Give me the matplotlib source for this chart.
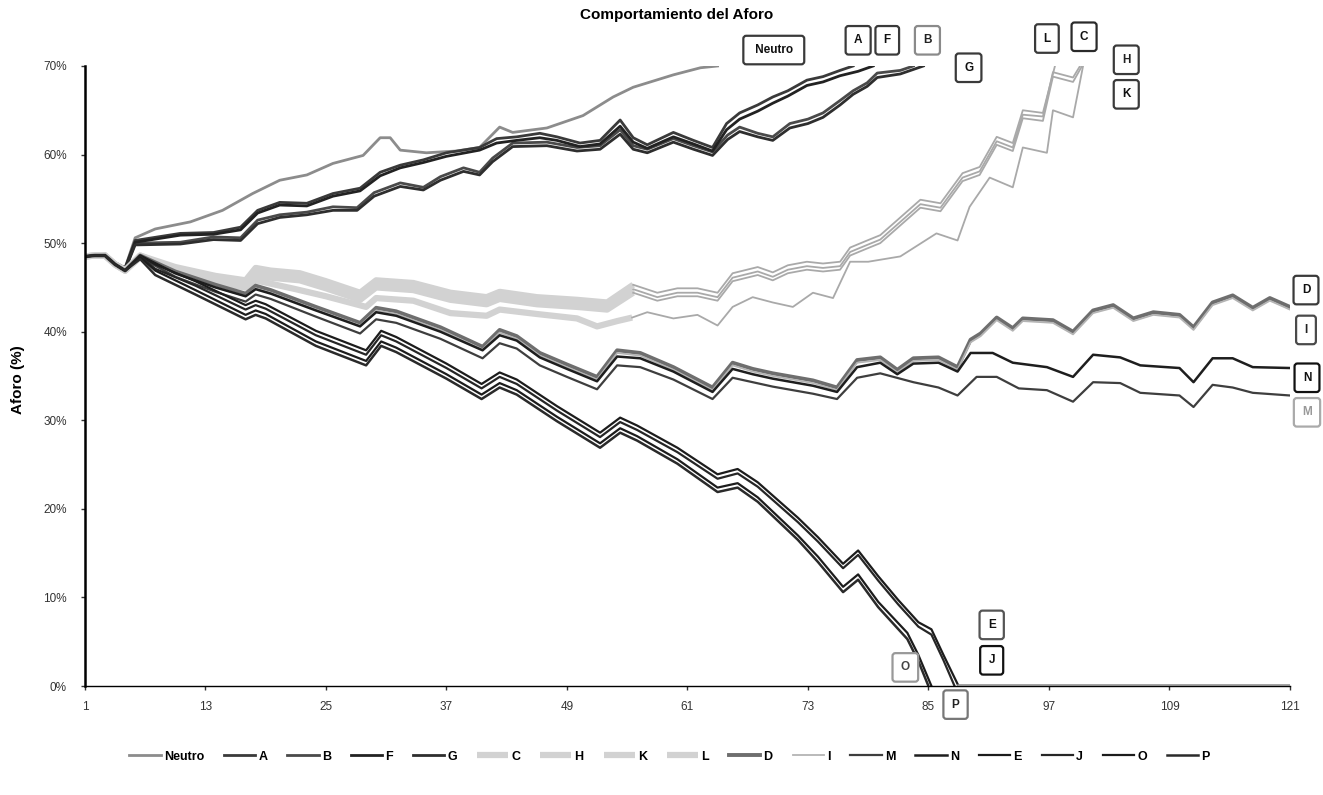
import matplotlib
matplotlib.use("Agg")
from matplotlib import pyplot as plt

plt.rcParams['font.family'] = ['Liberation Sans', 'DejaVu Sans']

# x positions (day) and Aforo (%), one pair of lists per series
neutro_x = [1, 2, 3, 4, 5, 6, 8, 11.5, 14.7, 17.7, 20.4, 23.1, 25.7, 28.7, 30.4, 31.4, 32.4, 35, 38, 40.3, 42.3,
            43.6, 47, 50.6, 53.6, 55.6, 59.6, 62.3, 64]
neutro_y = [48.5, 48.6, 48.8, 47.8, 47.2, 50.6, 51.6, 52.4, 53.7, 55.6, 57.1, 57.7, 59.0, 59.9, 61.9, 61.9, 60.5,
            60.2, 60.4, 60.8, 63.1, 62.5, 63.0, 64.4, 66.5, 67.6, 69.0, 69.8, 70.0]

a_x = [1, 2, 3, 4, 5, 6, 10.5, 13.8, 16.5, 18.2, 20.4, 23.1, 25.7, 28.4, 30.4, 32.4, 34.7, 37, 40.3, 42, 44, 46.3,
       48, 50.3, 52.3, 54.3, 55.6, 57, 59.6, 61.6, 63.5, 64.9, 66.2, 68, 69.5, 71, 72.9, 74.5, 76.2, 77.5]
a_y = [48.5, 48.6, 48.8, 47.8, 47.2, 50.3, 51.1, 51.2, 51.8, 53.7, 54.6, 54.5, 55.6, 56.2, 58.0, 58.8, 59.4, 60.2,
       60.8, 61.8, 62.0, 62.4, 62.0, 61.3, 61.6, 63.9, 61.9, 61.1, 62.5, 61.6, 60.8, 63.5, 64.7, 65.6, 66.5, 67.2,
       68.4, 68.8, 69.5, 70.0]

f_x = [1, 2, 3, 4, 5, 6, 10.5, 13.8, 16.5, 18.2, 20.4, 23.1, 25.7, 28.4, 30.4, 32.4, 34.7, 37, 40.3, 42, 44, 46.3,
       48, 50.3, 52.3, 54.3, 55.6, 57, 59.6, 61.6, 63.5, 64.9, 66.2, 68, 69.5, 71, 72.9, 74.5, 76.2, 78, 79.5]
f_y = [48.5, 48.6, 48.7, 47.7, 47.1, 50.1, 50.9, 51.0, 51.5, 53.4, 54.3, 54.2, 55.3, 55.9, 57.6, 58.5, 59.1, 59.8,
       60.5, 61.3, 61.6, 61.9, 61.6, 60.9, 61.2, 63.2, 61.4, 60.7, 62.0, 61.2, 60.4, 62.8, 64.0, 64.9, 65.8, 66.6,
       67.8, 68.2, 68.9, 69.4, 70.0]

b_x = [1, 2, 3, 4, 5, 6, 10.5, 13.8, 16.5, 18.2, 20.4, 23.1, 25.7, 28.1, 29.8, 32.4, 34.7, 36.4, 38.7, 40.3, 41.6,
       43.6, 47, 50, 52.3, 54.3, 55.6, 57, 59.6, 61.6, 63.5, 65, 66.2, 68, 69.5, 71.2, 73, 74.5, 76.2, 77.5, 78.9,
       79.9, 82.2, 83.5]
b_y = [48.5, 48.6, 48.7, 47.6, 47.0, 50.0, 50.1, 50.7, 50.6, 52.6, 53.2, 53.5, 54.1, 54.0, 55.7, 56.8, 56.3, 57.5,
       58.5, 58.0, 59.6, 61.3, 61.4, 60.8, 61.0, 62.8, 61.0, 60.6, 61.8, 61.0, 60.3, 62.2, 63.1, 62.4, 62.0, 63.5,
       64.0, 64.7, 66.1, 67.2, 68.1, 69.2, 69.5, 70.0]

g_x = [1, 2, 3, 4, 5, 6, 10.5, 13.8, 16.5, 18.2, 20.4, 23.1, 25.7, 28.1, 29.8, 32.4, 34.7, 36.4, 38.7, 40.3, 41.6,
       43.6, 47, 50, 52.3, 54.3, 55.6, 57, 59.6, 61.6, 63.5, 65, 66.2, 68, 69.5, 71.2, 73, 74.5, 76.2, 77.5, 78.9,
       79.9, 82.2, 84.5]
g_y = [48.5, 48.6, 48.7, 47.6, 47.0, 49.8, 49.9, 50.4, 50.3, 52.2, 52.9, 53.2, 53.7, 53.7, 55.3, 56.4, 56.0, 57.1,
       58.1, 57.7, 59.2, 60.9, 61.0, 60.4, 60.6, 62.3, 60.6, 60.2, 61.4, 60.6, 59.9, 61.7, 62.6, 62.0, 61.6, 63.0,
       63.5, 64.2, 65.6, 66.8, 67.7, 68.7, 69.1, 70.0]

l_x = [1, 2, 3, 4, 5, 6.5, 10, 14, 17, 18, 19.5, 22.4, 25, 28.4, 30, 33.7, 37.4, 41, 42.3, 46, 50, 53, 55.6, 58, 60,
       62, 64, 65.5, 68, 69.5, 71, 72.9, 74.5, 76.2, 77.2, 78.9, 80.2, 82.2, 84.2, 86.2, 88.4, 90.1, 91.8, 93.4,
       94.4, 96.4, 97.6]
l_y = [48.5, 48.6, 48.6, 47.6, 46.9, 48.6, 47.3, 46.3, 45.8, 47.2, 46.9, 46.6, 45.7, 44.4, 45.8, 45.5, 44.4, 43.9,
       44.5, 43.9, 43.6, 43.3, 45.3, 44.4, 44.9, 44.9, 44.4, 46.6, 47.3, 46.7, 47.5, 47.9, 47.7, 47.9, 49.5, 50.3,
       50.9, 52.9, 54.9, 54.5, 57.9, 58.6, 62.0, 61.3, 65.0, 64.7, 70.0]

c_x = [1, 2, 3, 4, 5, 6.5, 10, 14, 17, 18, 19.5, 22.4, 25, 28.4, 30, 33.7, 37.4, 41, 42.3, 46, 50, 53, 55.6, 58, 60,
       62, 64, 65.5, 68, 69.5, 71, 72.9, 74.5, 76.2, 77.2, 78.9, 80.2, 82.2, 84.2, 86.2, 88.4, 90.1, 91.8, 93.4,
       94.4, 96.4, 97.4, 99.4, 100.1]
c_y = [48.5, 48.6, 48.6, 47.6, 46.9, 48.5, 47.0, 45.9, 45.4, 46.8, 46.5, 46.2, 45.3, 44.0, 45.4, 45.1, 44.0, 43.5,
       44.1, 43.5, 43.2, 42.9, 44.8, 43.9, 44.4, 44.4, 43.9, 46.1, 46.8, 46.2, 47.0, 47.4, 47.2, 47.4, 49.0, 49.8,
       50.4, 52.4, 54.4, 54.0, 57.4, 58.1, 61.5, 60.8, 64.5, 64.3, 69.3, 68.7, 70.0]

h_x = [1, 2, 3, 4, 5, 6.5, 10, 14, 17, 18, 19.5, 22.4, 25, 28.4, 30, 33.7, 37.4, 41, 42.3, 46, 50, 53, 55.6, 58, 60,
       62, 64, 65.5, 68, 69.5, 71, 72.9, 74.5, 76.2, 77.2, 78.9, 80.2, 82.2, 84.2, 86.2, 88.4, 90.1, 91.8, 93.4,
       94.4, 96.4, 97.4, 99.4, 100.3]
h_y = [48.5, 48.6, 48.6, 47.6, 46.9, 48.4, 46.7, 45.5, 45.0, 46.4, 46.1, 45.8, 44.9, 43.6, 45.0, 44.7, 43.6, 43.1,
       43.7, 43.1, 42.8, 42.5, 44.4, 43.5, 44.0, 44.0, 43.5, 45.7, 46.4, 45.8, 46.6, 47.0, 46.8, 47.0, 48.6, 49.4,
       50.0, 52.0, 54.0, 53.6, 57.0, 57.7, 61.1, 60.4, 64.1, 63.8, 68.8, 68.2, 70.0]

k_x = [1, 2, 3, 4, 5, 6.5, 10, 14, 17, 18, 22, 25, 29, 30, 33.7, 37.4, 41, 42.3, 46, 50, 52, 54, 55.5, 57, 59.6, 62,
       64, 65.5, 67.5, 69.5, 71.5, 73.5, 75.5, 77.2, 79, 82.2, 85.8, 87.9, 89.1, 91.1, 93.4, 94.4, 96.8, 97.4, 99.4,
       100.4]
k_y = [48.5, 48.6, 48.6, 47.6, 46.9, 48.6, 47.0, 45.8, 45.0, 45.8, 44.8, 44.0, 42.8, 43.8, 43.5, 42.1, 41.8, 42.5,
       42.0, 41.5, 40.6, 41.2, 41.6, 42.2, 41.5, 41.9, 40.7, 42.8, 43.9, 43.3, 42.8, 44.4, 43.8, 47.9, 47.9, 48.5,
       51.1, 50.3, 54.1, 57.4, 56.3, 60.8, 60.2, 65.0, 64.2, 70.0]

d_x = [1, 2, 3, 4, 5, 6.5, 10, 14, 17, 18, 19.5, 24, 28.4, 30, 32, 36.4, 40.6, 42.3, 44, 46.3, 49, 52, 54, 56.3,
       59.6, 63.5, 65.5, 67.5, 69.5, 71.5, 73.5, 75.9, 77.9, 80.2, 81.9, 83.5, 86, 87.9, 89.2, 90.2, 91.8, 93.4,
       94.4, 97.4, 99.4, 101.4, 103.4, 105.4, 107.4, 110, 111.4, 113.3, 115.3, 117.3, 119, 121]
d_y = [48.5, 48.6, 48.6, 47.6, 46.9, 48.6, 46.8, 45.3, 44.3, 45.2, 44.7, 42.8, 41.0, 42.7, 42.3, 40.5, 38.3, 40.2,
       39.5, 37.6, 36.3, 34.9, 37.9, 37.6, 36.0, 33.7, 36.5, 35.8, 35.3, 34.9, 34.5, 33.7, 36.8, 37.1, 35.7, 37.0,
       37.1, 36.0, 39.1, 39.8, 41.6, 40.4, 41.5, 41.3, 40.0, 42.4, 43.0, 41.5, 42.2, 41.9, 40.5, 43.3, 44.1, 42.7,
       43.8, 42.8]

i_x = d_x
i_y = [48.5, 48.6, 48.6, 47.6, 46.9, 48.6, 46.6, 45.0, 44.0, 44.9, 44.4, 42.5, 40.7, 42.4, 42.0, 40.2, 38.0, 39.9,
       39.2, 37.3, 36.0, 34.6, 37.6, 37.3, 35.7, 33.4, 36.2, 35.5, 35.0, 34.6, 34.2, 33.4, 36.5, 36.8, 35.4, 36.7,
       36.8, 35.7, 38.8, 39.5, 41.3, 40.1, 41.2, 41.0, 39.7, 42.1, 42.7, 41.2, 41.9, 41.6, 40.2, 43.0, 43.8, 42.4,
       43.5, 42.5]

n_x = [1, 2, 3, 4, 5, 6.5, 10, 14, 17, 18, 19.5, 24, 28.4, 30, 32, 36.4, 40.6, 42.3, 44, 46.3, 49, 52, 54, 56.3,
       59.6, 63.5, 65.5, 67.5, 69.5, 71.5, 73.5, 75.9, 77.9, 80.2, 81.9, 83.5, 86, 87.9, 89.2, 91.4, 93.4, 96.8,
       99.4, 101.4, 104.1, 106.1, 110, 111.4, 113.3, 115.3, 117.3, 121]
n_y = [48.5, 48.6, 48.6, 47.6, 46.9, 48.6, 46.6, 45.0, 44.0, 44.8, 44.3, 42.4, 40.6, 42.2, 41.8, 40.0, 37.9, 39.6,
       39.0, 37.1, 35.8, 34.4, 37.2, 37.0, 35.5, 33.2, 35.8, 35.2, 34.7, 34.3, 33.9, 33.2, 36.0, 36.5, 35.2, 36.4,
       36.5, 35.5, 37.6, 37.6, 36.5, 36.0, 34.9, 37.4, 37.1, 36.2, 35.9, 34.3, 37.0, 37.0, 36.0, 35.9]

m_x = [1, 2, 3, 4, 5, 6.5, 10, 14, 17, 18, 19.5, 24, 28.4, 30, 32, 36.4, 40.6, 42.3, 44, 46.3, 49, 52, 54, 56.3,
       59.6, 63.5, 65.5, 67.5, 69.5, 71.5, 73.5, 75.9, 77.9, 80.2, 83.5, 86, 87.9, 89.8, 91.8, 94, 96.8, 99.4, 101.4,
       104.1, 106.1, 110, 111.4, 113.3, 115.3, 117.3, 121]
m_y = [48.5, 48.6, 48.6, 47.6, 46.9, 48.4, 46.2, 44.5, 43.4, 44.2, 43.7, 41.7, 39.8, 41.4, 41.0, 39.2, 37.0, 38.7,
       38.1, 36.2, 34.9, 33.5, 36.2, 36.0, 34.6, 32.4, 34.8, 34.3, 33.8, 33.4, 33.0, 32.4, 34.8, 35.3, 34.3, 33.7,
       32.8, 34.9, 34.9, 33.6, 33.4, 32.1, 34.3, 34.2, 33.1, 32.8, 31.5, 34.0, 33.7, 33.1, 32.8]

e_x = [1, 2, 3, 4, 5, 6.5, 8, 12, 17, 18, 19, 24, 29, 30.5, 32, 37, 40.5, 42.3, 44, 48, 52.3, 54.3, 56, 60, 64, 66,
       68, 72, 74, 76.5, 78, 80, 82, 84, 85.3, 86.5, 88, 121]
e_y = [48.5, 48.6, 48.6, 47.6, 46.9, 48.6, 47.6, 45.7, 43.0, 43.5, 43.1, 40.1, 37.9, 40.1, 39.4, 36.4, 34.1, 35.4,
       34.6, 31.6, 28.6, 30.3, 29.4, 26.9, 23.9, 24.5, 23.0, 19.0, 16.8, 13.8, 15.3, 12.4, 9.7, 7.2, 6.4, 3.5, 0.0,
       0.0]

j_x = [1, 2, 3, 4, 5, 6.5, 8, 12, 17, 18, 19, 24, 29, 30.5, 32, 37, 40.5, 42.3, 44, 48, 52.3, 54.3, 56, 60, 64, 66,
       68, 72, 74, 76.5, 78, 80, 82, 84, 85.3, 86.5, 87.6]
j_y = [48.5, 48.6, 48.6, 47.6, 46.9, 48.5, 47.1, 45.2, 42.5, 43.0, 42.6, 39.6, 37.4, 39.6, 38.9, 35.9, 33.6, 34.9,
       34.1, 31.1, 28.1, 29.8, 28.9, 26.4, 23.4, 24.0, 22.5, 18.5, 16.3, 13.3, 14.8, 11.9, 9.2, 6.7, 5.8, 2.9, 0.0]

o_x = [1, 2, 3, 4, 5, 6.5, 8, 12, 17, 18, 19, 24, 29, 30.5, 32, 37, 40.5, 42.3, 44, 48, 52.3, 54.3, 56, 60, 64, 66,
       68, 72, 74, 76.5, 78, 80, 82.9, 84, 85.3]
o_y = [48.5, 48.6, 48.6, 47.6, 46.9, 48.4, 46.9, 44.7, 41.9, 42.4, 42.0, 38.9, 36.7, 38.9, 38.2, 35.2, 32.9, 34.2,
       33.4, 30.4, 27.4, 29.1, 28.2, 25.6, 22.4, 22.9, 21.3, 17.0, 14.6, 11.2, 12.6, 9.5, 6.0, 3.5, 0.0]

p_x = [1, 2, 3, 4, 5, 6.5, 8, 12, 17, 18, 19, 24, 29, 30.5, 32, 37, 40.5, 42.3, 44, 48, 52.3, 54.3, 56, 60, 64, 66,
       68, 72, 74, 76.5, 78, 80, 82.9, 84, 85]
p_y = [48.5, 48.6, 48.6, 47.6, 46.9, 48.2, 46.4, 44.2, 41.4, 41.9, 41.5, 38.4, 36.2, 38.4, 37.7, 34.7, 32.4, 33.7,
       32.9, 29.9, 26.9, 28.6, 27.7, 25.1, 21.9, 22.4, 20.8, 16.5, 14.0, 10.6, 12.0, 8.9, 5.3, 2.8, 0.0]

x_ticks = [1, 13, 25, 37, 49, 61, 73, 85, 97, 109, 121]
y_ticks = [0, 10, 20, 30, 40, 50, 60, 70]

# name, x, y, colour, linewidth
series = [
    ("Neutro", neutro_x, neutro_y, "#8c8c8c", 2.0),
    ("A", a_x, a_y, "#3a3a3a", 2.0),
    ("B", b_x, b_y, "#4a4a4a", 2.0),
    ("F", f_x, f_y, "#222222", 2.0),
    ("G", g_x, g_y, "#2e2e2e", 2.0),
    ("C", c_x, c_y, "#d2d2d2", 4.5),
    ("H", h_x, h_y, "#d2d2d2", 4.5),
    ("K", k_x, k_y, "#d2d2d2", 4.5),
    ("L", l_x, l_y, "#d2d2d2", 4.5),
    ("D", d_x, d_y, "#6e6e6e", 2.8),
    ("I", i_x, i_y, "#b4b4b4", 1.3),
    ("M", m_x, m_y, "#3e3e3e", 1.6),
    ("N", n_x, n_y, "#1e1e1e", 1.8),
    ("E", e_x, e_y, "#1c1c1c", 1.6),
    ("J", j_x, j_y, "#262626", 1.6),
    ("O", o_x, o_y, "#1c1c1c", 1.6),
    ("P", p_x, p_y, "#2a2a2a", 1.8),
]
light = ["C", "H", "K", "L"]

# label box: centre (x, y in data units), edge colour, text colour
labels = {
    "Neutro": (69.6, 71.8, "#3a3a3a", "#111111"),
    "A": (78.0, 72.9, "#3a3a3a", "#111111"),
    "F": (80.9, 72.9, "#3a3a3a", "#111111"),
    "B": (84.9, 72.9, "#8a8a8a", "#222222"),
    "G": (89.0, 69.8, "#3a3a3a", "#111111"),
    "L": (96.8, 73.1, "#3a3a3a", "#111111"),
    "C": (100.5, 73.3, "#2a2a2a", "#111111"),
    "H": (104.7, 70.7, "#3a3a3a", "#222222"),
    "K": (104.7, 66.8, "#3a3a3a", "#111111"),
    "D": (122.6, 44.7, "#3a3a3a", "#111111"),
    "I": (122.6, 40.2, "#4a4a4a", "#222222"),
    "N": (122.7, 34.8, "#111111", "#111111"),
    "M": (122.7, 30.9, "#aaaaaa", "#999999"),
    "E": (91.3, 6.9, "#555555", "#111111"),
    "J": (91.3, 2.9, "#111111", "#111111"),
    "O": (82.7, 2.1, "#999999", "#444444"),
    "P": (87.7, -2.1, "#777777", "#222222"),
}

fig = plt.figure(figsize=(13.23, 7.95), dpi=100)
ax = fig.add_axes([0.0642, 0.1371, 0.9108, 0.7799])

for name, xs, ys, color, lw in series:
    if name in light:
        # thick light band first, thinner grey once the lines split
        cut = next(i for i, v in enumerate(xs) if v >= 55)
        ax.plot(xs[:cut + 1], ys[:cut + 1], color=color, lw=lw, label=name, solid_capstyle="butt")
        ax.plot(xs[cut:], ys[cut:], color="#a9a9a9", lw=1.3)
    elif name == "E":
        # the part lying on the axis shows up grey
        cut = xs.index(88)
        ax.plot(xs[:cut + 1], ys[:cut + 1], color=color, lw=lw, label=name)
        ax.plot(xs[cut:], ys[cut:], color="#8f8f8f", lw=2.6, zorder=3)
    else:
        ax.plot(xs, ys, color=color, lw=lw, label=name)

for name, (lx, ly, ec, tc) in labels.items():
    txt = " Neutro " if name == "Neutro" else name
    ax.text(lx, ly, txt, ha="center", va="center", fontsize=8.5, fontweight="bold", color=tc,
            clip_on=False, zorder=5,
            bbox=dict(boxstyle="round,pad=0.7,rounding_size=0.25", fc="white", ec=ec, lw=1.6))

ax.set_xlim(1, 121)
ax.set_ylim(0, 70)
ax.set_xticks(x_ticks)
ax.set_xticklabels([str(t) for t in x_ticks])
ax.set_yticks(y_ticks)
ax.set_yticklabels([f"{t}%" for t in y_ticks])
ax.tick_params(axis="both", labelsize=8.5, colors="#333333", length=3, width=1)
ax.tick_params(axis="x", pad=8)
ax.tick_params(axis="y", pad=10)

for side in ["top", "right"]:
    ax.spines[side].set_visible(False)
ax.spines["left"].set_linewidth(1.8)
ax.spines["bottom"].set_linewidth(1.0)

fig.text(0.5117, 0.981, "Comportamiento del Aforo", ha="center", va="center", fontsize=11, fontweight="bold")
fig.text(0.0136, 0.522, "Aforo (%)", ha="center", va="center", rotation=90, fontsize=11, fontweight="bold")

leg = fig.legend(loc="center", bbox_to_anchor=(0.506, 0.048), ncol=17, frameon=False, fontsize=9,
                 handlelength=2.5, handletextpad=0.25, columnspacing=1.6)
for t in leg.get_texts():
    t.set_fontweight("bold")

fig.savefig("out.png", dpi=100)
